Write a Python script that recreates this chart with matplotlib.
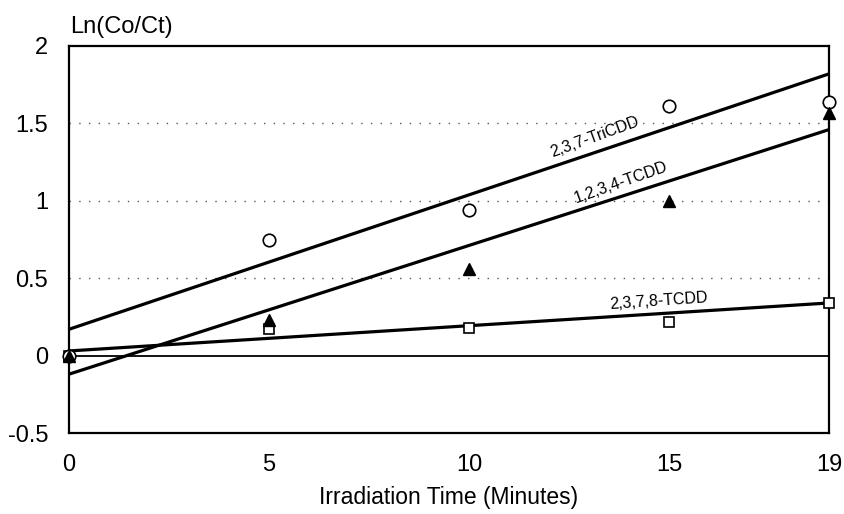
import matplotlib
matplotlib.use("Agg")
import matplotlib.pyplot as plt
import numpy as np

plt.rcParams['font.family'] = ['Liberation Sans', 'DejaVu Sans']

time_min = [0, 5, 10, 15, 19]
tricdd = [0.0, 0.75, 0.94, 1.61, 1.64]
tcdd_1234 = [0.0, 0.23, 0.56, 1.0, 1.57]
tcdd_2378 = [0.0, 0.17, 0.18, 0.22, 0.34]

# fitted lines: values at start and end of the time range
fit_x = [0, 19]
fit_tricdd = [0.17, 1.82]
fit_1234 = [-0.12, 1.46]
fit_2378 = [0.03, 0.34]

xticks = [0, 5, 10, 15, 19]
yticks = [-0.5, 0, 0.5, 1, 1.5, 2]
ytick_labels = ['-0.5', '0', '0.5', '1', '1.5', '2']

fig = plt.figure(figsize=(8.45, 5.14), dpi=100)
ax = fig.add_axes([69/845, 1-433/514, (829-69)/845, (433-46)/514])

ax.set_xlim(0, 19)
ax.set_ylim(-0.5, 2)

for g in [0.5, 1, 1.5]:
    ax.axhline(g, color='#555555', lw=1.0, ls=(0, (1, 6)), zorder=1)
ax.axhline(0, color='black', lw=1.3, zorder=2)

ax.plot(fit_x, fit_tricdd, color='black', lw=2.3, zorder=3)
ax.plot(fit_x, fit_1234, color='black', lw=2.3, zorder=3)
ax.plot(fit_x, fit_2378, color='black', lw=2.3, zorder=3)

ax.plot(time_min, tcdd_2378, ls='none', marker='s', ms=7.5, mfc='white', mec='black', mew=1.2, zorder=4, clip_on=False)
ax.plot(time_min, tcdd_1234, ls='none', marker='^', ms=8, mfc='black', mec='black', zorder=5, clip_on=False)
ax.plot(time_min, tricdd, ls='none', marker='o', ms=9, mfc='white', mec='black', mew=1.2, zorder=4, clip_on=False)

ax.text(13.15, 1.41, '2,3,7-TriCDD', rotation=20, ha='center', va='center', fontsize=11.5)
ax.text(13.8, 1.12, '1,2,3,4-TCDD', rotation=19.5, ha='center', va='center', fontsize=11.5)
ax.text(14.75, 0.35, '2,3,7,8-TCDD', rotation=4, ha='center', va='center', fontsize=11.5)

ax.set_xticks(xticks)
ax.set_xticklabels([str(t) for t in xticks])
ax.set_yticks(yticks)
ax.set_yticklabels(ytick_labels)
ax.tick_params(length=0, labelsize=17)
ax.tick_params(axis='x', pad=15)
ax.tick_params(axis='y', pad=15)

for s in ax.spines.values():
    s.set_linewidth(1.6)
    s.set_color('black')

ax.set_xlabel('Irradiation Time (Minutes)', fontsize=16.5, labelpad=7)
fig.text(70/845, 1-27/514, 'Ln(Co/Ct)', fontsize=17, ha='left', va='center')

fig.savefig('out.png', dpi=100)
